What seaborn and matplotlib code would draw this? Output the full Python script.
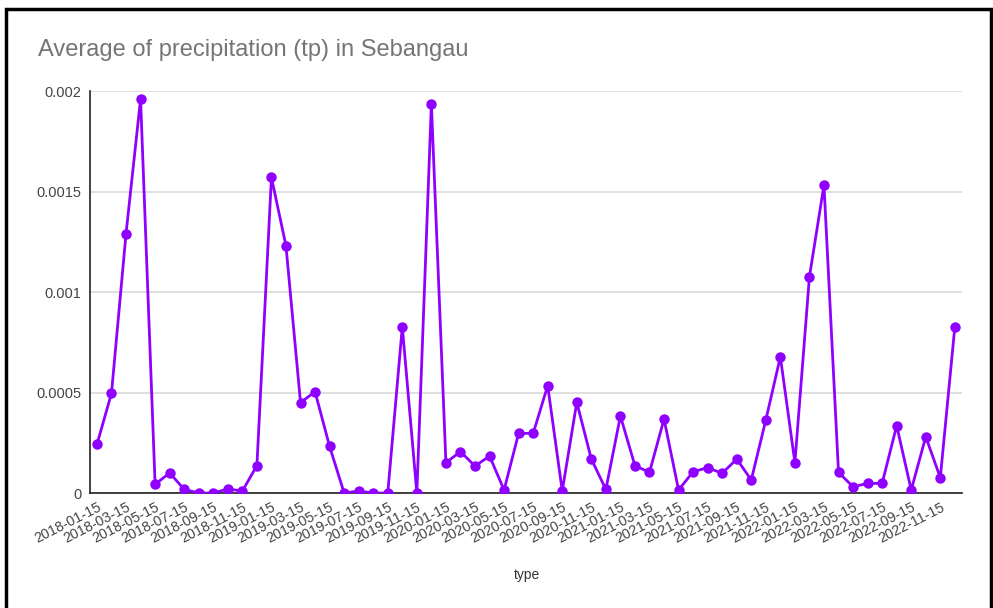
import matplotlib
matplotlib.use("Agg")
import matplotlib.pyplot as plt
import matplotlib.patches as mpatches
import numpy as np
import pandas as pd
import seaborn as sns

# ─── Data ────────────────────────────────────────────────────────────────────
months = [f"{y}-{m:02d}-15" for y in range(2018, 2023) for m in range(1, 13)]
tp = [
    0.000242, 0.000496, 0.00129, 0.00196, 0.000043, 0.0001,
    0.000018, 0.0, 0.0, 0.00002, 0.00001, 0.000136,
    0.00157, 0.00123, 0.00045, 0.000504, 0.000232, 0.0,
    0.00001, 0.0, 0.0, 0.000827, 0.0, 0.001937,
    0.000151, 0.000206, 0.000134, 0.000184, 0.000015, 0.000297,
    0.000297, 0.000534, 0.00001, 0.000451, 0.000169, 0.000018,
    0.000383, 0.000136, 0.000103, 0.000368, 0.000015, 0.000106,
    0.000126, 0.000098, 0.000169, 0.000065, 0.000363, 0.000678,
    0.000151, 0.001076, 0.001532, 0.000103, 0.000031, 0.000048,
    0.000048, 0.000335, 0.000015, 0.00028, 0.000076, 0.000827,
]
ytick_vals = [0, 0.0005, 0.001, 0.0015, 0.002]
ytick_labels = ["0", "0.0005", "0.001", "0.0015", "0.002"]

df = pd.DataFrame({"type": months, "tp": tp})
df["idx"] = np.arange(len(df))

sns.set_theme(style="white")
plt.rcParams["font.family"] = ["Liberation Sans", "DejaVu Sans"]

LINE = "#8f00ff"

fig = plt.figure(figsize=(9.93, 6.08), dpi=100)
ax = fig.add_axes([0.0906, 0.1891, 0.878, 0.6612])

sns.lineplot(data=df, x="idx", y="tp", ax=ax, color=LINE, linewidth=2,
             marker="o", markersize=7.5, markeredgewidth=0, zorder=3)

ax.set_xlim(-0.48, len(df) - 1 + 0.48)
ax.set_ylim(0, 0.002)
ax.set_yticks(ytick_vals)
ax.set_yticklabels(ytick_labels, fontsize=10.5, color="#444444")
ax.set_xticks(df["idx"][::2])
ax.set_xticklabels(df["type"][::2], rotation=27, ha="right",
                   rotation_mode="anchor", fontsize=10.3, color="#444444")
ax.tick_params(axis="y", length=0, pad=6)
ax.tick_params(axis="x", length=0, pad=5)
ax.yaxis.grid(True, color="#d9d9d9", linewidth=1.2)
ax.set_axisbelow(True)
for s in ["top", "right"]:
    ax.spines[s].set_visible(False)
for s in ["left", "bottom"]:
    ax.spines[s].set_color("#222222")
    ax.spines[s].set_linewidth(1.2)
ax.set_xlabel("")
ax.set_ylabel("")

fig.text(38 / 993, 1 - 50 / 608, "Average of precipitation (tp) in Sebangau",
         fontsize=17, color="#757575", va="center", ha="left")
fig.text(527 / 993, 1 - 575 / 608, "type", fontsize=10, color="#333333",
         ha="center", va="center")

# screenshot frame
frame = mpatches.Rectangle((6 / 993, -0.05), 985 / 993, 1.05 - 9 / 608,
                           transform=fig.transFigure, fill=False,
                           edgecolor="black", linewidth=2.5)
fig.patches.append(frame)

fig.savefig("out.png", dpi=100)
